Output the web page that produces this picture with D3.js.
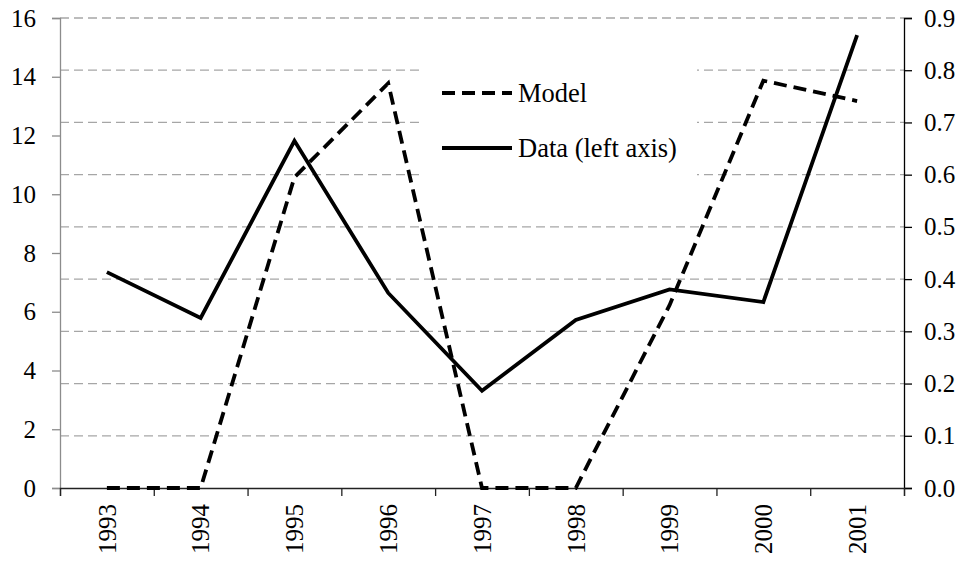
<!DOCTYPE html>
<html>
<head>
<meta charset="utf-8">
<script src="https://cdn.jsdelivr.net/npm/d3@7"></script>
<style>
  body { margin: 0; background: #fff; }
</style>
</head>
<body>
<div id="chart"></div>
<script>
// data
const years = ["1993","1994","1995","1996","1997","1998","1999","2000","2001"];
const dataLeft = [7.35, 5.79, 11.82, 6.64, 3.31, 5.72, 6.76, 6.33, 15.42];
const modelRight = [0, 0, 0.595, 0.775, 0, 0, 0.35, 0.78, 0.741];
const leftTicks = [0, 2, 4, 6, 8, 10, 12, 14, 16];
const rightTicks = [0, 0.1, 0.2, 0.3, 0.4, 0.5, 0.6, 0.7, 0.8, 0.9];

const FONT = "Liberation Serif";

const W = 967, H = 564;
const margin = {top: 18, right: 63, bottom: 76, left: 60},
    width = W - margin.left - margin.right,
    height = H - margin.top - margin.bottom;

const svg = d3.select("#chart").append("svg")
    .attr("width", W).attr("height", H)
  .append("g")
    .attr("transform", `translate(${margin.left},${margin.top})`);

const x = d3.scaleBand().domain(years).range([0, width]);
const yL = d3.scaleLinear().domain([0, 16]).range([height, 0]);
const yR = d3.scaleLinear().domain([0, 0.9]).range([height, 0]);

// gridlines follow the right axis
svg.append("g")
  .selectAll("line")
  .data(rightTicks.slice(1))
  .join("line")
    .attr("x1", 0).attr("x2", width)
    .attr("y1", d => yR(d)).attr("y2", d => yR(d))
    .attr("stroke", "#a6a6a6")
    .attr("stroke-width", 1.3)
    .attr("stroke-dasharray", "9,5");

// white legend background hides the grid behind it
svg.append("rect").attr("x", 421 - margin.left).attr("y", 40 - margin.top)
  .attr("width", 276).attr("height", 155).attr("fill", "#fff");

// left axis (grey)
const gL = svg.append("g")
  .call(d3.axisLeft(yL).tickValues(leftTicks).tickSize(8).tickPadding(16).tickFormat(d3.format("d")));
gL.select(".domain").attr("stroke", "#8c8c8c").attr("stroke-width", 1.3);
gL.selectAll(".tick line").attr("stroke", "#8c8c8c").attr("stroke-width", 1.3);
gL.selectAll("text").style("font-size", "25px").style("font-family", FONT).attr("fill", "#000");

// right axis (black)
const gR = svg.append("g")
  .attr("transform", `translate(${width},0)`)
  .call(d3.axisRight(yR).tickValues(rightTicks).tickSize(8).tickPadding(12).tickFormat(d3.format(".1f")));
gR.select(".domain").attr("stroke", "#000").attr("stroke-width", 1.3);
gR.selectAll(".tick line").attr("stroke", "#000").attr("stroke-width", 1.3);
gR.selectAll("text").style("font-size", "25px").style("font-family", FONT).attr("fill", "#000");

// x axis: boundary ticks
const xb = d3.scaleLinear().domain([0, years.length]).range([0, width]);
const gX = svg.append("g")
  .attr("transform", `translate(0,${height})`)
  .call(d3.axisBottom(xb).tickValues(d3.range(years.length + 1)).tickSize(8).tickFormat(""));
gX.select(".domain").attr("stroke", "#222").attr("stroke-width", 1.3);
gX.selectAll(".tick line").attr("stroke", "#222").attr("stroke-width", 1.3);

// x labels, rotated
const gXL = svg.append("g")
  .attr("transform", `translate(0,${height})`)
  .call(d3.axisBottom(x).tickSize(0).tickPadding(0));
gXL.select(".domain").remove();
gXL.selectAll("text")
  .style("font-size", "25px")
  .style("font-family", FONT)
  .attr("fill", "#000")
  .attr("text-anchor", "end")
  .attr("dy", "0.35em")
  .attr("transform", "translate(0,16) rotate(-90)")
  .attr("x", 0).attr("y", 0);

// lines
const cx = d => x(d) + x.bandwidth() / 2;
const lineL = d3.line().x((d, i) => cx(years[i])).y(d => yL(d));
const lineR = d3.line().x((d, i) => cx(years[i])).y(d => yR(d));

svg.append("path").datum(modelRight)
  .attr("d", lineR)
  .attr("fill", "none").attr("stroke", "#000")
  .attr("stroke-width", 3.8)
  .attr("stroke-dasharray", "13,7");

svg.append("path").datum(dataLeft)
  .attr("d", lineL)
  .attr("fill", "none").attr("stroke", "#000")
  .attr("stroke-width", 3.8)
  .attr("stroke-linejoin", "miter");

// legend
const lg = svg.append("g").attr("transform", `translate(${442 - margin.left},0)`);
const legendItems = [
  {label: "Model", dash: "13,7", y: 93},
  {label: "Data (left axis)", dash: null, y: 148}
];
legendItems.forEach(it => {
  lg.append("line")
    .attr("x1", 0).attr("x2", 70)
    .attr("y1", it.y - margin.top).attr("y2", it.y - margin.top)
    .attr("stroke", "#000").attr("stroke-width", 3.8)
    .attr("stroke-dasharray", it.dash);
  lg.append("text")
    .attr("x", 76).attr("y", it.y - margin.top)
    .attr("dy", "0.33em")
    .style("font-size", "26.5px")
    .style("font-family", FONT)
    .text(it.label);
});
</script>
</body>
</html>
